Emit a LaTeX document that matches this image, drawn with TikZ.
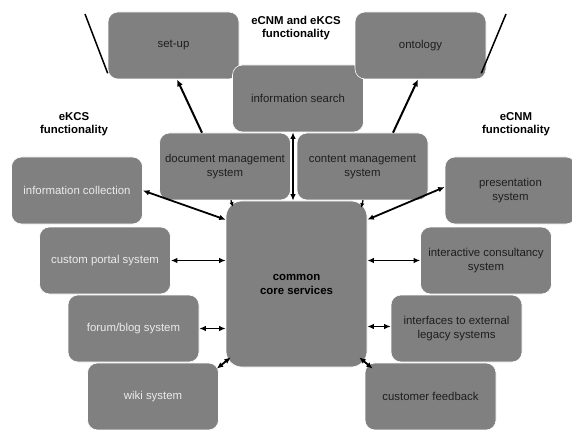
\documentclass[tikz,border=0pt]{standalone}
\usepackage{fontspec}
\setmainfont{Liberation Sans}
\usepackage{tikz}
\usetikzlibrary{calc}
\usetikzlibrary{arrows.meta}

\definecolor{boxgray}{RGB}{128,128,128}
\definecolor{lighttext}{RGB}{235,235,235}
\definecolor{darktext}{RGB}{30,30,30}

\begin{document}
\begin{tikzpicture}
% pixel grid, y downwards
[
    x=1pt, y=-1pt,
    box/.style={draw=white, line width=0.6pt, fill=boxgray, rounded corners=10pt,
      minimum width=131pt, minimum height=67pt, inner sep=0pt, align=center,
      font=\fontsize{11.4}{14}\selectfont},
    darkbox/.style={box, text=darktext},
    lightbox/.style={box, text=lighttext},
    title/.style={align=center, font=\fontsize{11.4}{13}\selectfont\bfseries},
    link/.style={line width=1.8pt, {Latex[length=6.5pt,width=5.5pt]}-{Latex[length=6.5pt,width=5.5pt]}},
    onelink/.style={line width=2pt, -{Latex[length=7pt,width=6pt]}},
    shortlink/.style={line width=1.3pt, -{Latex[length=4.5pt,width=4.5pt]}}
]
\useasboundingbox (0,0) rectangle (572,430);

% top row
\node[darkbox] (setup) at (173.5,45.5) {set-up};
\node[darkbox] (search) at (298,98.5) {information search};
\node[darkbox] (ontology) at (420.5,45.5) {ontology};
\node[darkbox] (docmgmt) at (225,166.5) {document management\\system};
\node[darkbox] (contmgmt) at (362.5,166.5) {content management\\system};

% core
\node[box, minimum width=141pt, minimum height=166pt, rounded corners=16pt, text=black,
  font=\fontsize{11.4}{14}\selectfont\bfseries] (core) at (296.5,284) {common\\core services};

% eKCS side
\node[lightbox] (infocoll) at (77,190.5) {information collection};
\node[lightbox] (portal) at (105,260.5) {custom portal system};
\node[lightbox] (forum) at (133.5,328.5) {forum/blog system};
\node[lightbox] (wiki) at (153,396.5) {wiki system};

% eCNM side
\node[darkbox] (presentation) at (510.5,190.5) {presentation\\system};
\node[darkbox] (interactive) at (486,260.5) {interactive consultancy\\system};
\node[darkbox] (interfaces) at (456.5,328.5) {interfaces to external\\legacy systems};
\node[darkbox] (feedback) at (430.5,396.5) {customer feedback};

% headings
\node[title] (bothtitle) at (296,28) {eCNM and eKCS\\functionality};
\node[title] (kcstitle) at (74,124.5) {eKCS\\functionality};
\node[title] (cnmtitle) at (516,124.5) {eCNM\\functionality};

% arrows
\draw[onelink] ([xshift=-23pt]docmgmt.north) -- ([xshift=3.5pt]setup.south);
\draw[onelink] ([xshift=30.5pt]contmgmt.north) -- ([xshift=-2.5pt]ontology.south);
\draw[link] ([xshift=-5pt]search.south) -- ([xshift=-3.5pt]core.north);
\draw[shortlink] ([xshift=6pt]docmgmt.south) -- ([xshift=7pt,yshift=-6pt]core.north west);
\draw[shortlink] ([xshift=0.5pt]contmgmt.south) -- ([xshift=-6pt,yshift=-7pt]core.north east);

\draw[link] (infocoll.east) -- ([yshift=-19pt]core.north west);
\draw[link] (portal.east) -- (portal.east -| core.west);
\draw[link] (forum.east) -- (forum.east -| core.west);
\draw[link] ([xshift=-2pt,yshift=-6pt]wiki.north east) -- ([xshift=5pt,yshift=10pt]core.south west);

\draw[link] ([yshift=3.5pt]presentation.west) -- ([yshift=-19pt]core.north east);
\draw[link] (interactive.west -| core.east) -- (interactive.west);
\draw[link] ([yshift=2pt]interfaces.west -| core.east) -- ([yshift=2pt]interfaces.west);
\draw[link] ([xshift=-8pt,yshift=10pt]core.south east) -- ([xshift=8pt,yshift=-6pt]feedback.north west);

% outer lines
\coordinate (lefttop) at (85,14);
\coordinate (righttop) at (506,14);
\draw[line width=1.5pt] (lefttop) -- ([yshift=6pt]setup.south west);
\draw[line width=1.5pt] (righttop) -- ([xshift=-5pt,yshift=6pt]ontology.south east);
\end{tikzpicture}
\end{document}
